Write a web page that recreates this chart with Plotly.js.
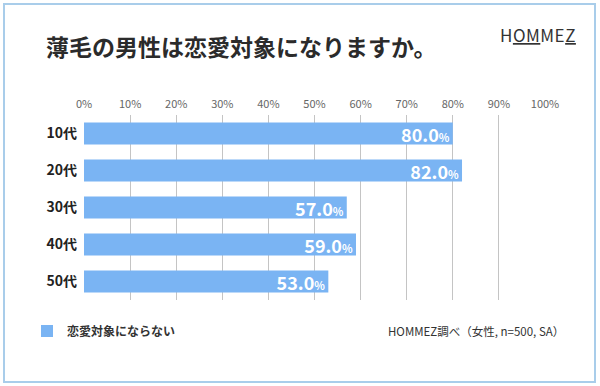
<!DOCTYPE html>
<html><head><meta charset="utf-8">
<script src="https://cdn.plot.ly/plotly-3.0.1.min.js"></script>
<style>body{margin:0;background:#fff}#c{width:600px;height:386px}</style>
</head><body><div id="c"></div>
<script>
const categories = ['10代', '20代', '30代', '40代', '50代'];
const values = [80.0, 82.0, 57.0, 59.0, 53.0];
const seriesName = '恋愛対象にならない';
const tickVals = [0, 10, 20, 30, 40, 50, 60, 70, 80, 90, 100];
const tickLabels = tickVals.map(v => v + '%');
const titleText = '薄毛の男性は恋愛対象になりますか。';
const sourceText = 'HOMMEZ調べ（女性, n=500, SA）';

const FONT = '"Noto Sans CJK JP", "Noto Sans", sans-serif';
const L = 84, R = 55, T = 115, B = 86;
const PW = 600 - L - R, PH = 386 - T - B;
const px = x => (x - L) / PW;
const py = y => (386 - B - y) / PH;

const trace = {
  type: 'bar',
  orientation: 'h',
  x: values,
  y: categories,
  name: seriesName,
  marker: {color: '#7ab4f3'},
  text: values.map(v => v.toFixed(1) + '<span style="font-size:11px">%</span>'),
  textposition: 'inside',
  insidetextanchor: 'end',
  constraintext: 'none',
  textfont: {color: '#ffffff', size: 18, family: FONT, weight: 'bold'},
  hoverinfo: 'none',
  cliponaxis: false
};

const layout = {
  width: 600, height: 386,
  margin: {l: L, r: R, t: T, b: B, pad: 0},
  paper_bgcolor: '#ffffff',
  plot_bgcolor: '#ffffff',
  font: {family: FONT, color: '#333333'},
  bargap: 0.4,
  title: {
    text: titleText,
    font: {size: 23, color: '#2b2b2b', family: FONT, weight: 'bold'},
    x: 46 / 600, xanchor: 'left', xref: 'container',
    y: 1 - 48 / 386, yanchor: 'middle', yref: 'container'
  },
  xaxis: {
    side: 'top',
    range: [0, 100],
    tickvals: tickVals,
    ticktext: tickLabels,
    showgrid: true,
    gridcolor: '#c4c4c4',
    gridwidth: 1,
    zeroline: false,
    showline: false,
    ticks: '',
    ticklabelstandoff: 4,
    tickfont: {size: 11, color: '#666666', family: FONT},
    fixedrange: true
  },
  yaxis: {
    type: 'category',
    autorange: 'reversed',
    showgrid: false,
    zeroline: false,
    ticks: '',
    ticklabelstandoff: 6,
    tickfont: {size: 14, color: '#222222', family: FONT, weight: 'bold'},
    fixedrange: true
  },
  showlegend: true,
  legend: {
    orientation: 'h',
    x: px(27), xanchor: 'left',
    y: py(331), yanchor: 'middle',
    font: {size: 12, color: '#333333', family: FONT, weight: 'bold'},
    itemwidth: 30,
    bgcolor: 'rgba(0,0,0,0)'
  },
  annotations: [
    {
      text: sourceText,
      xref: 'paper', yref: 'paper',
      x: px(566), xanchor: 'right',
      y: py(331), yanchor: 'middle',
      showarrow: false,
      font: {size: 11.5, color: '#333333', family: FONT}
    },
    {
      text: '<span style="letter-spacing:0.5px">H<u>OM</u>ME<u>Z</u></span>',
      xref: 'paper', yref: 'paper',
      x: px(578), xanchor: 'right',
      y: py(34), yanchor: 'middle',
      showarrow: false,
      font: {size: 17, color: '#333333', family: FONT}
    }
  ],
  shapes: [
    {
      type: 'rect', xref: 'paper', yref: 'paper',
      x0: px(4), x1: px(595), y0: py(382), y1: py(4),
      line: {color: '#a9cdea', width: 2},
      fillcolor: 'rgba(0,0,0,0)',
      layer: 'below'
    }
  ]
};

Plotly.newPlot('c', [trace], layout, {displayModeBar: false, staticPlot: true});
</script>
</body></html>
